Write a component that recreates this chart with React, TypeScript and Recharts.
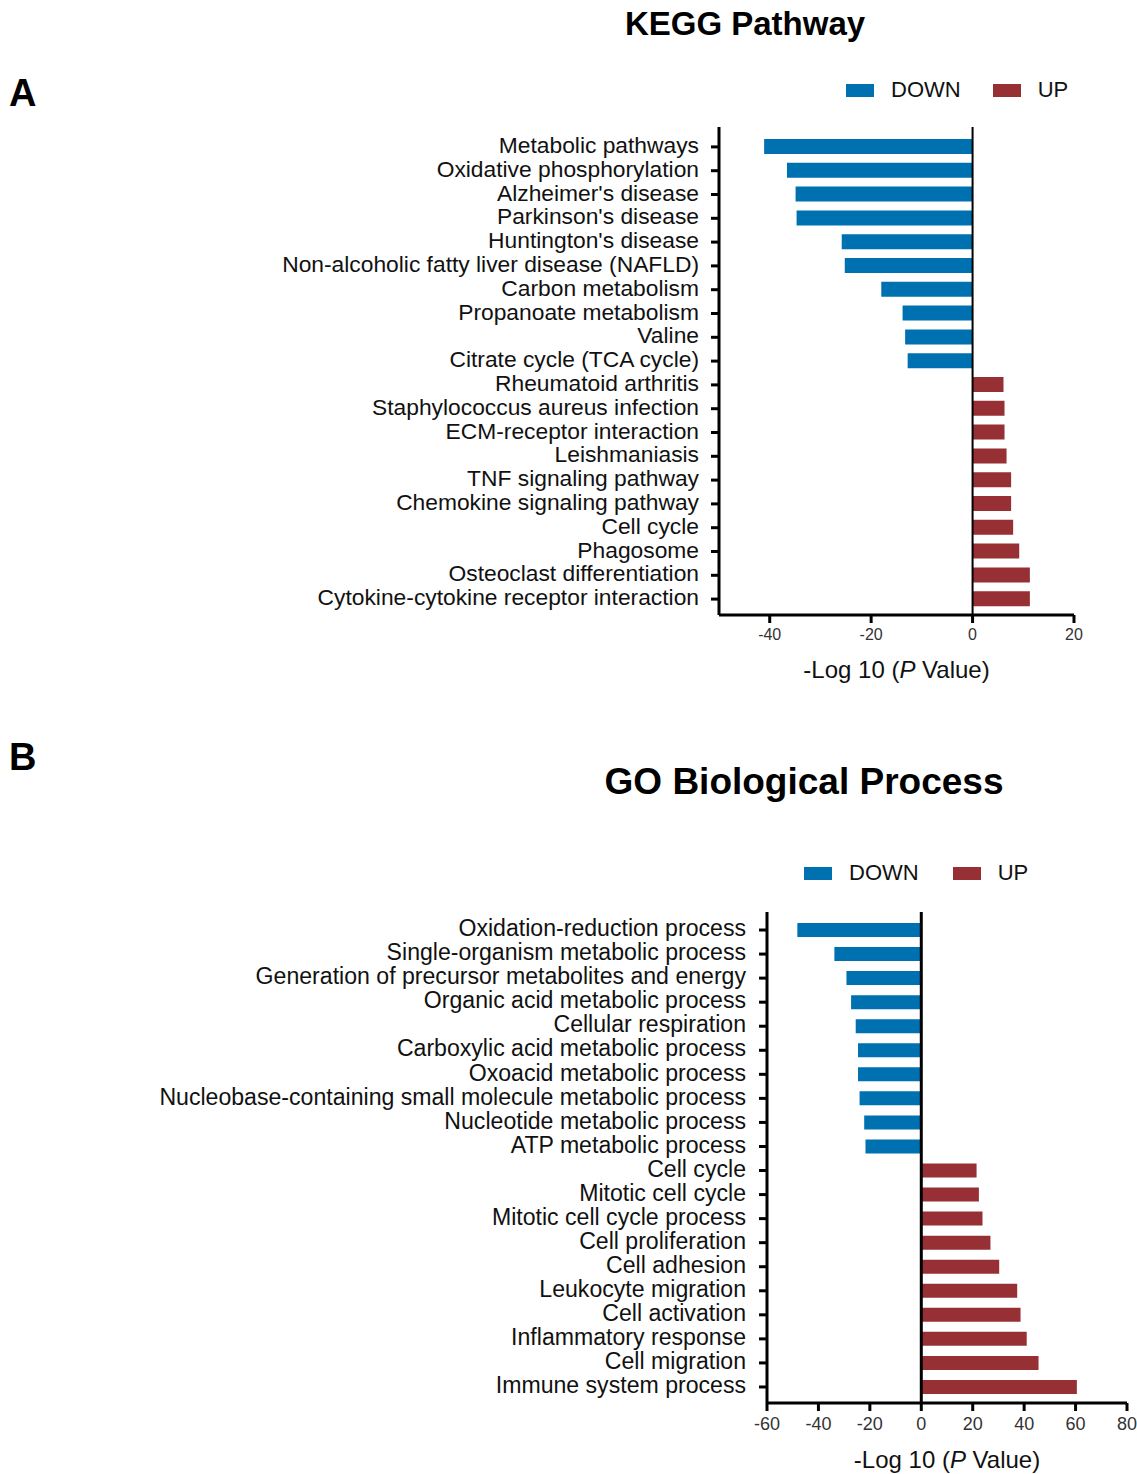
import { Bar, BarChart, ReferenceLine, XAxis, YAxis } from "recharts";

const keggCategories = [
  "Metabolic pathways",
  "Oxidative phosphorylation",
  "Alzheimer's disease",
  "Parkinson's disease",
  "Huntington's disease",
  "Non-alcoholic fatty liver disease (NAFLD)",
  "Carbon metabolism",
  "Propanoate metabolism",
  "Valine",
  "Citrate cycle (TCA cycle)",
  "Rheumatoid arthritis",
  "Staphylococcus aureus infection",
  "ECM-receptor interaction",
  "Leishmaniasis",
  "TNF signaling pathway",
  "Chemokine signaling pathway",
  "Cell cycle",
  "Phagosome",
  "Osteoclast differentiation",
  "Cytokine-cytokine receptor interaction",
];
const keggDown = [-41.1, -36.6, -34.9, -34.7, -25.8, -25.2, -18.0, -13.8, -13.3, -12.8];
const keggUp = [6.1, 6.3, 6.3, 6.7, 7.6, 7.6, 8.0, 9.2, 11.3, 11.3];
const keggTicks = [-40, -20, 0, 20];

const goCategories = [
  "Oxidation-reduction process",
  "Single-organism metabolic process",
  "Generation of precursor metabolites and energy",
  "Organic acid metabolic process",
  "Cellular respiration",
  "Carboxylic acid metabolic process",
  "Oxoacid metabolic process",
  "Nucleobase-containing small molecule metabolic process",
  "Nucleotide metabolic process",
  "ATP metabolic process",
  "Cell cycle",
  "Mitotic cell cycle",
  "Mitotic cell cycle process",
  "Cell proliferation",
  "Cell adhesion",
  "Leukocyte migration",
  "Cell activation",
  "Inflammatory response",
  "Cell migration",
  "Immune system process",
];
const goDown = [-48.2, -33.8, -29.1, -27.3, -25.5, -24.6, -24.6, -24.0, -22.2, -21.7];
const goUp = [21.5, 22.4, 23.8, 26.9, 30.3, 37.3, 38.6, 41.0, 45.6, 60.5];
const goTicks = [-60, -40, -20, 0, 20, 40, 60, 80];

const series = [
  { key: "down", name: "DOWN", color: "#0071b0" },
  { key: "up", name: "UP", color: "#963034" },
];

const FONT = "'Liberation Sans', Arial, Helvetica, sans-serif";

function buildRows(categories: string[], down: number[], up: number[]) {
  return categories.map((name, i) => ({
    name,
    down: i < down.length ? down[i] : null,
    up: i >= down.length ? up[i - down.length] : null,
  }));
}

function AxisTitle(props: any) {
  const { viewBox, offsetY } = props;
  const { x, y, width } = viewBox;
  return (
    <text
      x={x + width / 2}
      y={y + offsetY}
      textAnchor="middle"
      fontSize={24}
      fontFamily={FONT}
      fill="#111">
      -Log 10 (<tspan fontStyle="italic">P</tspan> Value)
    </text>
  );
}

function LegendRow({ left, top, gap }: { left: number; top: number; gap: number }) {
  return (
    <div
      style={{
        position: "absolute",
        left,
        top,
        display: "flex",
        alignItems: "center",
        fontFamily: FONT,
        fontSize: 22,
        color: "#111",
        height: 26,
      }}>
      {series.map((s, i) => (
        <div key={s.key} style={{ display: "flex", alignItems: "center", marginRight: i === 0 ? gap : 0 }}>
          <div style={{ width: 28, height: 13, background: s.color, marginRight: 17 }} />
          <span>{s.name}</span>
        </div>
      ))}
    </div>
  );
}

type PanelProps = {
  top: number;
  height: number;
  rows: any[];
  yWidth: number;
  marginTop: number;
  marginRight: number;
  xHeight: number;
  domain: [number, number];
  ticks: number[];
  pad: { top: number; bottom: number };
  barSize: number;
  tickMargin: number;
  labelFont: number;
  xFont: number;
  zeroWidth: number;
  titleOffset: number;
};

function Panel(p: PanelProps) {
  return (
    <div style={{ position: "absolute", left: 0, top: p.top }}>
      <BarChart
        width={1137}
        height={p.height}
        data={p.rows}
        layout="vertical"
        stackOffset="sign"
        margin={{ top: p.marginTop, right: p.marginRight, bottom: 0, left: 0 }}>
        <XAxis
          type="number"
          domain={p.domain}
          ticks={p.ticks}
          allowDataOverflow
          height={p.xHeight}
          axisLine={{ stroke: "#000", strokeWidth: 3 }}
          tickLine={{ stroke: "#000", strokeWidth: 3 }}
          tickSize={8}
          tickMargin={6}
          tick={{ fontSize: p.xFont, fontFamily: FONT, fill: "#333" }}
          label={(lp: any) => <AxisTitle {...lp} offsetY={p.titleOffset} />}
        />
        <YAxis
          type="category"
          dataKey="name"
          width={p.yWidth}
          interval={0}
          padding={p.pad}
          axisLine={{ stroke: "#000", strokeWidth: 3 }}
          tickLine={{ stroke: "#000", strokeWidth: 3 }}
          tickSize={8}
          tickMargin={p.tickMargin}
          tick={{ fontSize: p.labelFont, fontFamily: FONT, fill: "#111", dy: -2 }}
        />
        {series.map((s) => (
          <Bar
            key={s.key}
            dataKey={s.key}
            name={s.name}
            stackId="s"
            fill={s.color}
            barSize={p.barSize}
            isAnimationActive={false}
          />
        ))}
        <ReferenceLine x={0} stroke="#000" strokeWidth={p.zeroWidth} />
      </BarChart>
    </div>
  );
}

const textBase = {
  position: "absolute" as const,
  fontFamily: FONT,
  fontWeight: 700,
  color: "#000",
  whiteSpace: "nowrap" as const,
};

export default function App() {
  const keggRows = buildRows(keggCategories, keggDown, keggUp);
  const goRows = buildRows(goCategories, goDown, goUp);
  return (
    <div
      style={{
        position: "absolute",
        left: 0,
        top: 0,
        width: 1137,
        height: 1474,
        background: "#fff",
        overflow: "hidden",
      }}>
      <Panel
        top={0}
        height={700}
        rows={keggRows}
        yWidth={719}
        marginTop={127}
        marginRight={63}
        xHeight={85}
        domain={[-50, 20]}
        ticks={keggTicks}
        pad={{ top: 8, bottom: 4 }}
        barSize={15}
        tickMargin={12}
        labelFont={22.8}
        xFont={16}
        zeroWidth={2}
        titleOffset={63}
      />
      <Panel
        top={830}
        height={644}
        rows={goRows}
        yWidth={767}
        marginTop={82}
        marginRight={10}
        xHeight={71}
        domain={[-60, 80]}
        ticks={goTicks}
        pad={{ top: 6, bottom: 4 }}
        barSize={14}
        tickMargin={13}
        labelFont={23.1}
        xFont={18}
        zeroWidth={3}
        titleOffset={65}
      />

      <div style={{ ...textBase, left: 545, width: 400, top: 5, fontSize: 33, textAlign: "center" }}>
        KEGG Pathway
      </div>
      <div style={{ ...textBase, left: 9, top: 72, fontSize: 38 }}>A</div>
      <LegendRow left={846} top={77} gap={32} />

      <div style={{ ...textBase, left: 554, width: 500, top: 761, fontSize: 37, textAlign: "center" }}>
        GO Biological Process
      </div>
      <div style={{ ...textBase, left: 9, top: 736, fontSize: 38 }}>B</div>
      <LegendRow left={804} top={860} gap={34} />
    </div>
  );
}
